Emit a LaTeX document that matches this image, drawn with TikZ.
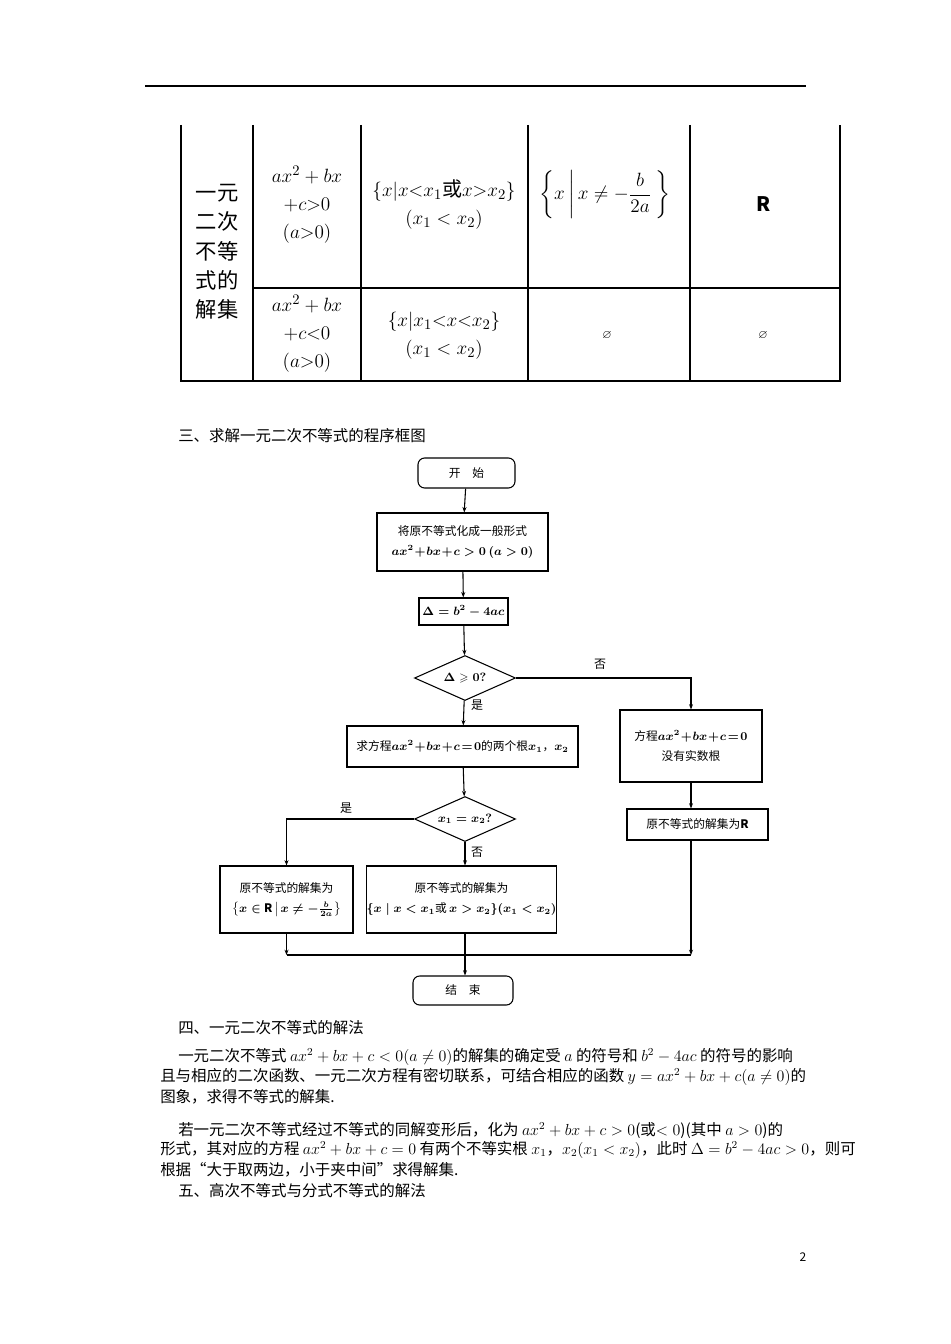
\documentclass[tikz,border=0pt]{standalone}
\usepackage{amsmath,amssymb}
\usepackage{fontspec}
\setmainfont{Noto Sans CJK SC}
\usetikzlibrary{shapes.geometric,arrows.meta}
\begin{document}
\begin{tikzpicture}[x=0.75pt,y=-0.75pt,
  tb/.style={font=\fontsize{15}{21}\selectfont,align=center},
  fb/.style={draw,thick,font=\fontsize{8.8}{15}\selectfont,align=center,inner sep=0pt},
  dia/.style={fb,diamond,minimum width=75.75pt,minimum height=33.75pt,aspect=2.2},
  lb/.style={font=\fontsize{9}{10}\selectfont},
  arr/.style={thick,-{Stealth[length=4pt,width=3pt]}},
  para/.style={anchor=west,font=\fontsize{11.6}{13}\selectfont,inner sep=0pt}]
\useasboundingbox (0,0) rectangle (950,1344);
\fill[white] (0,0) rectangle (950,1344);
% header rule
\draw[line width=1pt] (145,86) -- (806,86);
% table
\draw[thick] (181,125) -- (181,381) -- (840,381) -- (840,125);
\foreach \x in {253,361,528,690} \draw[thick] (\x,125) -- (\x,381);
\draw[thick] (253,288) -- (840,288);
\node[tb,font=\fontsize{16}{22}\selectfont] (t0) at (217,252) {一元\\二次\\不等\\式的\\解集};
\node[tb] (t1) at (307,205) {$ax^2+bx$\\$+c{>}0$\\$(a{>}0)$};
\node[tb] (t2) at (444,205) {$\{x|x{<}x_1$或$x{>}x_2\}$\\$(x_1<x_2)$};
\node[tb] (t3) at (605,195) {$\left\{x\,\middle|\,x\neq-\dfrac{b}{2a}\ \right\}$};
\node[tb] (t4) at (764,204) {$\mathbf{R}$};
\node[tb] (t5) at (307,334) {$ax^2+bx$\\$+c{<}0$\\$(a{>}0)$};
\node[tb] (t6) at (444,336) {$\{x|x_1{<}x{<}x_2\}$\\$(x_1<x_2)$};
\node[font=\small] (t7) at (607,336) {$\varnothing$};
\node[font=\small] (t8) at (763,336) {$\varnothing$};
% heading
\node[para] (h3) at (178,436) {三、求解一元二次不等式的程序框图};
% flowchart
\node[fb,rounded corners=5pt,minimum width=72.75pt,minimum height=22.5pt] (start) at (466.5,473) {开\quad 始};
\node[fb,minimum width=128.25pt,minimum height=43.5pt] (b1) at (462.5,542) {将原不等式化成一般形式\\$\boldsymbol{ax^2\!+\!bx\!+\!c>0\ (a>0)}$};
\node[fb,minimum width=66.75pt,minimum height=20.25pt] (del) at (463.5,611.5) {$\boldsymbol{\Delta=b^2-4ac}$};
\node[dia] (d1) at (465,678) {$\boldsymbol{\Delta\geqslant0?}$};
\node[fb,minimum width=173.25pt,minimum height=30.75pt] (b2) at (462.5,746.5) {求方程$\boldsymbol{ax^2\!+\!bx\!+\!c\!=\!0}$的两个根$\boldsymbol{x_1}$，$\boldsymbol{x_2}$};
\node[fb,minimum width=106.5pt,minimum height=54pt] (r1) at (691,746) {方程$\boldsymbol{ax^2\!+\!bx\!+\!c\!=\!0}$\\没有实数根};
\node[fb,minimum width=105.75pt,minimum height=23.25pt] (r2) at (697.5,824.5) {原不等式的解集为$\mathbf{R}$};
\node[dia] (d2) at (465,819) {$\boldsymbol{x_1=x_2?}$};
\node[fb,minimum width=99.75pt,minimum height=50.25pt] (bl) at (286.5,899.5) {原不等式的解集为\\$\left\{\boldsymbol{x\in}\mathbf{R}\,\middle|\,\boldsymbol{x\neq-\frac{b}{2a}}\right\}$};
\node[fb,minimum width=140.25pt,minimum height=50.25pt] (bm) at (461.5,899.5) {原不等式的解集为\\$\boldsymbol{\{x\mid x<x_1}$或$\boldsymbol{\,x>x_2\}(x_1<x_2)}$};
\node[fb,rounded corners=5pt,minimum width=75pt,minimum height=21.75pt] (end) at (463,990.5) {结\quad 束};
\coordinate (m) at (465,955);
\draw[arr] (start) -- (b1);
\draw[arr] (b1) -- (del);
\draw[arr] (del) -- (d1);
\draw[arr] (d1) -- (b2);
\draw[arr] (d1.east) -| (r1.north);
\draw[arr] (r1.south) -- (r1.south |- r2.north);
\draw[arr] (b2) -- (d2);
\draw[arr] (d2.west) -| (bl.north);
\draw[arr] (d2) -- (d2 |- bm.north);
\draw[arr] (bl.south) -- (bl.south |- m);
\draw[arr] (r1.south |- r2.south) -- (r1.south |- m);
\draw[thick] (bl.south |- m) -- (r1.south |- m);
\draw[arr] (bm.south -| m) -- (end.north -| m);
\node[lb] (l1) at (600,664) {否};
\node[lb] (l2) at (477,705) {是};
\node[lb] (l3) at (346,808) {是};
\node[lb] (l4) at (477,852) {否};
% text
\node[para] (h4) at (178,1028) {四、一元二次不等式的解法};
\node[para] (p1) at (178,1057) {一元二次不等式 $ax^2+bx+c<0(a\neq0)$的解集的确定受 $a$ 的符号和 $b^2-4ac$ 的符号的影响};
\node[para] (p2) at (160,1077) {且与相应的二次函数、一元二次方程有密切联系，可结合相应的函数 $y=ax^2+bx+c(a\neq0)$的};
\node[para] (p3) at (160,1097) {图象，求得不等式的解集.};
\node[para] (p4) at (178,1130) {若一元二次不等式经过不等式的同解变形后，化为 $ax^2+bx+c>0$(或$<0$)(其中 $a>0$)的};
\node[para] (p5) at (160,1150) {形式，其对应的方程 $ax^2+bx+c=0$ 有两个不等实根 $x_1$，$x_2(x_1<x_2)$，此时 $\Delta=b^2-4ac>0$，则可};
\node[para] (p6) at (160,1170) {根据“大于取两边，小于夹中间”求得解集.};
\node[para] (h5) at (178,1191) {五、高次不等式与分式不等式的解法};
\node[font=\fontsize{9}{10}\selectfont] (pg) at (803,1257) {2};
\end{tikzpicture}
\end{document}
